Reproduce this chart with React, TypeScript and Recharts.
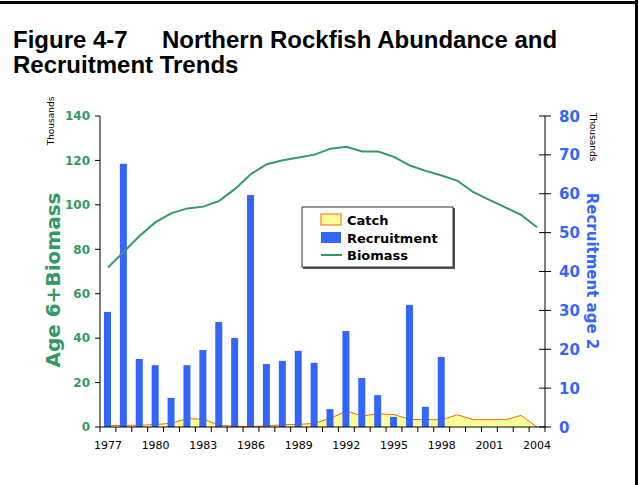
import React from 'react';
import {
  ComposedChart,
  Area,
  Bar,
  Line,
  XAxis,
  YAxis,
} from 'recharts';

const years = [
  1977, 1978, 1979, 1980, 1981, 1982, 1983, 1984, 1985, 1986, 1987, 1988, 1989,
  1990, 1991, 1992, 1993, 1994, 1995, 1996, 1997, 1998, 1999, 2000, 2001, 2002,
  2003, 2004,
];

// thousands of tons, left axis
const biomass = [
  71.8, 78.9, 86.1, 92.2, 96.3, 98.4, 99.2, 101.8, 107.2, 113.9, 118.3, 120.1,
  121.3, 122.6, 125.3, 126.1, 124.0, 124.0, 121.6, 117.7, 115.3, 113.2, 110.8,
  105.7, 102.2, 98.9, 95.5, 89.9,
];

// thousands of tons, left axis
const catchValues = [
  0.7, 0.7, 0.8, 1.1, 1.7, 3.8, 3.5, 0.8, 0.3, 0.2, 0.5, 1.0, 1.2, 1.6, 4.0,
  7.1, 5.0, 5.9, 5.6, 3.4, 3.3, 3.3, 5.5, 3.3, 3.3, 3.3, 5.2, 0,
];

// millions of fish, right axis
const recruitment = [
  29.6, 67.7, 17.5, 15.9, 7.5, 15.9, 19.8, 27.0, 22.9, 59.7, 16.2, 17.0, 19.6,
  16.5, 4.6, 24.7, 12.6, 8.2, 2.6, 31.4, 5.2, 18.0, null, null, null, null,
  null, null,
];

const leftTicks = [0, 20, 40, 60, 80, 100, 120, 140];
const rightTicks = [0, 10, 20, 30, 40, 50, 60, 70, 80];

const chartData = years.map((year, i) => ({
  year,
  biomass: biomass[i],
  catch: catchValues[i],
  recruitment: recruitment[i],
}));

const GREEN = '#339966';
const BLUE = '#3366FF';
const COMIC = '"DejaVu Sans", sans-serif';
const ARIAL = '"Liberation Sans", Arial, sans-serif';

const PLOT_LEFT = 100;
const PLOT_RIGHT = 545;
const PLOT_TOP = 116;
const PLOT_BOTTOM = 427;
const BAND = (PLOT_RIGHT - PLOT_LEFT) / years.length;

const YearTick = (props: any) => {
  const { x, y, payload, index } = props;
  const half = payload && payload.offset ? payload.offset : BAND / 2;
  const year = payload.value as number;
  const isLast = index === years.length - 1;
  return (
    <g>
      <line x1={x - half} x2={x - half} y1={y} y2={y + 5} stroke="#000" />
      {isLast && (
        <line x1={x + half} x2={x + half} y1={y} y2={y + 5} stroke="#000" />
      )}
      {(year - 1977) % 3 === 0 && (
        <text
          x={x}
          y={y + 22}
          textAnchor="middle"
          fontSize={11}
          fontFamily={COMIC}
          fill="#000"
        >
          {year}
        </text>
      )}
    </g>
  );
};

const RightTick = (props: any) => {
  const { x, y, payload } = props;
  return (
    <g>
      <line x1={x - 6} x2={x + 6} y1={y} y2={y} stroke="#000" />
      <text
        x={x + 14}
        y={y + 5.5}
        textAnchor="start"
        fontSize={15}
        fontWeight="bold"
        fontFamily={COMIC}
        fill={BLUE}
      >
        {payload.value}
      </text>
    </g>
  );
};

export default function App() {
  return (
    <div
      style={{
        position: 'absolute',
        left: 0,
        top: 0,
        width: 639,
        height: 485,
        background: '#fff',
      }}
    >
      <ComposedChart
        width={639}
        height={485}
        data={chartData}
        margin={{ top: PLOT_TOP, right: 0, bottom: 28, left: 0 }}
      >
        <XAxis
          dataKey="year"
          interval={0}
          tickSize={0}
          tickMargin={0}
          tickLine={false}
          tick={<YearTick />}
          stroke="#000"
          height={30}
        />
        <YAxis
          yAxisId="left"
          orientation="left"
          domain={[0, 140]}
          ticks={leftTicks}
          interval={0}
          width={PLOT_LEFT}
          stroke="#000"
          tickSize={5}
          tickMargin={5}
          tick={{
            fill: GREEN,
            fontSize: 12,
            fontWeight: 'bold',
            fontFamily: COMIC,
          }}
        />
        <YAxis
          yAxisId="right"
          orientation="right"
          domain={[0, 80]}
          ticks={rightTicks}
          interval={0}
          width={639 - PLOT_RIGHT}
          stroke="#000"
          tickSize={0}
          tickMargin={0}
          tickLine={false}
          tick={<RightTick />}
        />
        <Area
          yAxisId="left"
          type="linear"
          dataKey="catch"
          stroke="#FF6600"
          strokeWidth={1}
          fill="#FFFF99"
          fillOpacity={1}
          isAnimationActive={false}
        />
        <Bar
          yAxisId="right"
          dataKey="recruitment"
          fill={BLUE}
          barSize={7}
          isAnimationActive={false}
        />
        <Line
          yAxisId="left"
          type="linear"
          dataKey="biomass"
          stroke={GREEN}
          strokeWidth={2}
          dot={false}
          isAnimationActive={false}
        />
      </ComposedChart>

      <svg
        width={639}
        height={485}
        style={{ position: 'absolute', left: 0, top: 0, pointerEvents: 'none' }}
      >
        {/* frame */}
        <line x1={0} x2={638} y1={2.5} y2={2.5} stroke="#000" strokeWidth={3} />
        <line x1={636.5} x2={636.5} y1={0} y2={485} stroke="#000" strokeWidth={3} />

        {/* title */}
        <text x={13} y={48} fontSize={24} fontWeight="bold" fontFamily={ARIAL} fill="#000">
          Figure 4-7
        </text>
        <text x={162} y={48} fontSize={24} fontWeight="bold" fontFamily={ARIAL} fill="#000">
          Northern Rockfish Abundance and
        </text>
        <text x={13} y={73} fontSize={24} fontWeight="bold" fontFamily={ARIAL} fill="#000">
          Recruitment Trends
        </text>

        {/* axis titles */}
        <text
          transform="translate(54,121) rotate(-90)"
          textAnchor="middle"
          fontSize={9}
          fontFamily={COMIC}
          fill="#000"
        >
          Thousands
        </text>
        <text
          transform="translate(60,280) rotate(-90)"
          textAnchor="middle"
          fontSize={20}
          fontWeight="bold"
          fontFamily={COMIC}
          fill={GREEN}
        >
          Age 6+Biomass
        </text>
        <text
          transform="translate(590,137) rotate(90)"
          textAnchor="middle"
          fontSize={9}
          fontFamily={COMIC}
          fill="#000"
        >
          Thousands
        </text>
        <text
          transform="translate(587,271) rotate(90)"
          textAnchor="middle"
          fontSize={15}
          fontWeight="bold"
          fontFamily={COMIC}
          fill={BLUE}
        >
          Recruitment age 2
        </text>

        {/* legend */}
        <rect x={303} y={208} width={152} height={61} fill="#555" />
        <rect x={302} y={207} width={151} height={60} fill="#fff" stroke="#333" />
        <rect x={321} y={214} width={20} height={11} fill="#FFFF99" stroke="#FF6600" />
        <text x={347} y={225} fontSize={13} fontWeight="bold" fontFamily={COMIC} fill="#000">
          Catch
        </text>
        <rect x={321} y={232} width={20} height={11} fill={BLUE} />
        <text x={347} y={243} fontSize={13} fontWeight="bold" fontFamily={COMIC} fill="#000">
          Recruitment
        </text>
        <line x1={321} x2={342} y1={255} y2={255} stroke={GREEN} strokeWidth={2} />
        <text x={347} y={260} fontSize={13} fontWeight="bold" fontFamily={COMIC} fill="#000">
          Biomass
        </text>
      </svg>
    </div>
  );
}
